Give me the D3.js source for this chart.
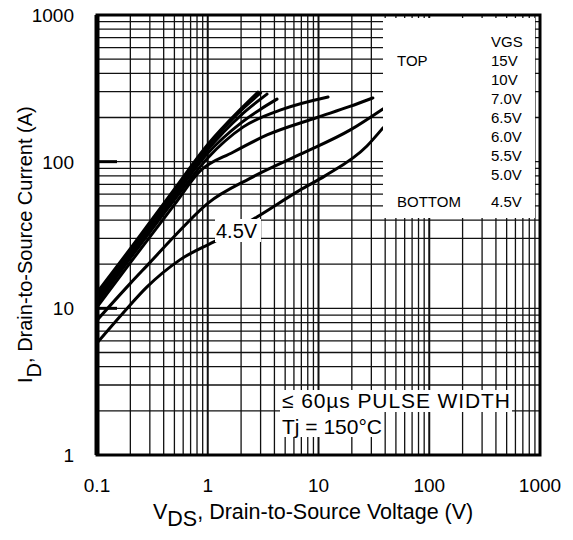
<!DOCTYPE html>
<html>
<head>
<meta charset="utf-8">
<script src="https://cdn.jsdelivr.net/npm/d3@7"></script>
<style>
  body { margin: 0; background: #fff; }
  svg { font-family: "Liberation Sans", Arial, sans-serif; }
</style>
</head>
<body>
<script>
// Output characteristics, Tj = 150°C. [VDS (V), ID (A)]
const vgsLabels = ["15V", "10V", "7.0V", "6.5V", "6.0V", "5.5V", "5.0V", "4.5V"];

const curve15V = [[0.1, 12.8], [0.2, 25.5], [0.5, 65], [1, 131], [2, 230], [2.84, 298]];
const curve10V = [[0.1, 12.3], [0.2, 25], [0.5, 63], [1, 127], [2, 224], [3.0, 294]];
const curve7V  = [[0.1, 11.8], [0.2, 24], [0.5, 61], [1, 121], [2, 208], [3.43, 289]];
const curve65V = [[0.1, 11.3], [0.2, 23], [0.5, 58], [1, 114], [2, 184], [3, 228], [4.22, 267]];
const curve6V  = [[0.1, 10.8], [0.2, 22], [0.5, 55], [1, 106], [2.08, 172], [4.78, 228], [12.2, 276]];
const curve55V = [[0.1, 10.2], [0.2, 20.5], [0.5, 51], [0.85, 86], [1.69, 116], [3.43, 152], [9.7, 200], [19.2, 238], [31, 272]];
const curve5V  = [[0.1, 8.3], [0.2, 14.8], [0.3, 20.5], [0.5, 31], [1, 52], [2.41, 77], [6.8, 112], [19.2, 164], [38.2, 229]];
const curve45V = [[0.1, 5.8], [0.172, 9.3], [0.283, 14], [0.56, 21.4], [1.21, 29.2], [2.78, 42], [6.8, 64], [11.45, 80], [27.4, 128], [38.2, 170]];

const curves = [curve15V, curve10V, curve7V, curve65V, curve6V, curve55V, curve5V, curve45V];

const xTicks = [0.1, 1, 10, 100, 1000];
const yTicks = [1, 10, 100, 1000];

// layout
const W = 573, H = 540;
const pL = 97, pR = 540, pT = 15, pB = 455;

const svg = d3.select("body").append("svg")
    .attr("width", W)
    .attr("height", H);

const x = d3.scaleLog().domain([0.1, 1000]).range([pL, pR]);
const y = d3.scaleLog().domain([1, 1000]).range([pB, pT]);

// grid: every 1..9 in each decade
const xGrid = [], yGrid = [];
[0.1, 1, 10, 100].forEach(d => { for (let k = 1; k <= 9; k++) xGrid.push(+(d * k).toPrecision(3)); });
[1, 10, 100].forEach(d => { for (let k = 1; k <= 9; k++) yGrid.push(d * k); });

svg.append("g")
    .selectAll("line")
    .data(xGrid)
    .join("line")
    .attr("x1", d => x(d)).attr("x2", d => x(d))
    .attr("y1", pT).attr("y2", pB)
    .attr("stroke", "#111")
    .attr("stroke-width", d => xTicks.includes(d) ? 2 : 1.3);

svg.append("g")
    .selectAll("line")
    .data(yGrid)
    .join("line")
    .attr("x1", pL).attr("x2", pR)
    .attr("y1", d => y(d)).attr("y2", d => y(d))
    .attr("stroke", "#111")
    .attr("stroke-width", 1.3);

// curves
const line = d3.line()
    .x(d => x(d[0]))
    .y(d => y(d[1]))
    .curve(d3.curveMonotoneX);

svg.append("g")
    .selectAll("path")
    .data(curves)
    .join("path")
    .attr("d", line)
    .attr("fill", "none")
    .attr("stroke", "#000")
    .attr("stroke-width", 3)
    .attr("stroke-linecap", "round");

// legend box
svg.append("rect")
    .attr("x", 383).attr("y", 18)
    .attr("width", 152).attr("height", 200)
    .attr("fill", "#fff");

const legend = svg.append("g").style("font-size", "15px");
legend.append("text").attr("x", 491).attr("y", 47).text("VGS");
legend.selectAll(".vgs")
    .data(vgsLabels)
    .join("text")
    .attr("class", "vgs")
    .attr("x", 491)
    .attr("y", (d, i) => i < 7 ? 66 + i * 19 : 207)
    .text(d => d);
legend.append("text").attr("x", 397).attr("y", 66).text("TOP");
legend.append("text").attr("x", 397).attr("y", 207).text("BOTTOM");

// 4.5V curve label
svg.append("rect")
    .attr("x", 215).attr("y", 219)
    .attr("width", 46).attr("height", 23)
    .attr("fill", "#fff");
svg.append("text")
    .attr("x", 216).attr("y", 238)
    .style("font-size", "20px")
    .text("4.5V");

// conditions
svg.append("rect").attr("x", 280).attr("y", 390).attr("width", 232).attr("height", 22).attr("fill", "#fff");
svg.append("rect").attr("x", 280).attr("y", 412).attr("width", 103).attr("height", 25).attr("fill", "#fff");
svg.append("text").attr("x", 282).attr("y", 408).style("font-size", "21px")
    .attr("textLength", 228).attr("lengthAdjust", "spacing")
    .text("\u2264 60\u00b5s PULSE WIDTH");
svg.append("text").attr("x", 282).attr("y", 434).style("font-size", "21px").text("Tj = 150\u00b0C");

// major ticks on the left edge
svg.append("g")
    .selectAll("line")
    .data([10, 100])
    .join("line")
    .attr("x1", pL).attr("x2", pL + 20)
    .attr("y1", d => y(d)).attr("y2", d => y(d))
    .attr("stroke", "#000")
    .attr("stroke-width", 3);

// frame
svg.append("rect")
    .attr("x", pL).attr("y", pT)
    .attr("width", pR - pL).attr("height", pB - pT)
    .attr("fill", "none")
    .attr("stroke", "#000")
    .attr("stroke-width", 3);
svg.append("line")
    .attr("x1", pL).attr("x2", pL)
    .attr("y1", pT).attr("y2", pB)
    .attr("stroke", "#000").attr("stroke-width", 5);

// tick labels
svg.append("g")
    .selectAll("text")
    .data(xTicks)
    .join("text")
    .attr("x", d => x(d))
    .attr("y", 492)
    .attr("text-anchor", "middle")
    .style("font-size", "19px")
    .text(d => d);

svg.append("g")
    .selectAll("text")
    .data(yTicks)
    .join("text")
    .attr("x", 74)
    .attr("y", d => y(d) + 7)
    .attr("text-anchor", "end")
    .style("font-size", "19px")
    .text(d => d);

// axis titles
const xt = svg.append("text")
    .attr("x", 153).attr("y", 519)
    .style("font-size", "21.5px");
xt.append("tspan").text("V");
xt.append("tspan").attr("dy", 7).text("DS");
xt.append("tspan").attr("dy", -7).text(", Drain-to-Source Voltage (V)");

const yt = svg.append("text")
    .attr("transform", "translate(32,383) rotate(-90)")
    .style("font-size", "20px");
yt.append("tspan").text("I");
yt.append("tspan").attr("dy", 9).text("D");
yt.append("tspan").attr("dy", -9).text(", Drain-to-Source Current (A)");
</script>
</body>
</html>
